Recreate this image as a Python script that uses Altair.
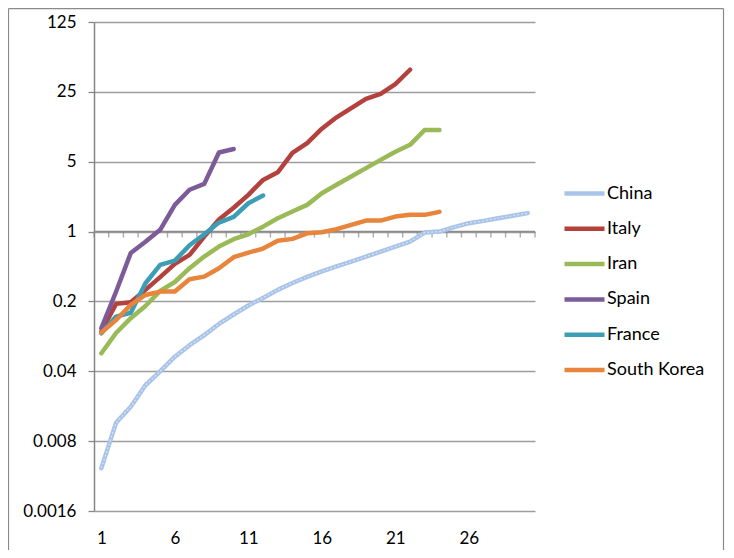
import altair as alt
import pandas as pd

days = list(range(1, 31))
countries = ["China", "Italy", "Iran", "Spain", "France", "South Korea"]
colors = ["#a9c4e8", "#b3413d", "#9aba58", "#7b5b98", "#3c9db6", "#e8843b"]

china = [0.0043, 0.0122, 0.0177, 0.029, 0.040, 0.056, 0.073, 0.092, 0.119, 0.148,
         0.182, 0.217, 0.261, 0.306, 0.352, 0.40, 0.448, 0.50, 0.562, 0.63,
         0.708, 0.794, 0.977, 1.0, 1.107, 1.214, 1.28, 1.36, 1.44, 1.53]
italy = [0.100, 0.189, 0.196, 0.261, 0.35, 0.475, 0.584, 0.89, 1.32, 1.73,
         2.33, 3.29, 3.92, 6.14, 7.68, 10.7, 13.9, 17.2, 21.3, 23.9, 29.9, 41.6]
iran = [0.0606, 0.0967, 0.136, 0.180, 0.255, 0.313, 0.43, 0.562, 0.708, 0.84,
        0.94, 1.12, 1.36, 1.59, 1.85, 2.42, 2.94, 3.55, 4.31, 5.22,
        6.28, 7.38, 10.4, 10.4]
spain = [0.108, 0.25, 0.61, 0.79, 1.04, 1.85, 2.62, 3.0, 6.19, 6.7]
france = [0.096, 0.141, 0.154, 0.304, 0.464, 0.512, 0.73, 0.94, 1.23, 1.40, 1.92, 2.29]
korea = [0.0974, 0.1305, 0.1845, 0.232, 0.251, 0.251, 0.334, 0.354, 0.43, 0.554,
         0.616, 0.676, 0.81, 0.845, 0.96, 0.986, 1.057, 1.167, 1.289, 1.289,
         1.413, 1.47, 1.47, 1.575]

y_ticks = [0.0016, 0.008, 0.04, 0.2, 1, 5, 25, 125]
x_labels = [1, 6, 11, 16, 21, 26]
boundaries = [b + 0.5 for b in range(0, 31)]

series = {"China": china, "Italy": italy, "Iran": iran, "Spain": spain,
          "France": france, "South Korea": korea}
rows = []
for c in countries:
    for d, v in zip(days, series[c]):
        rows.append({"day": d, "country": c, "value": v})
df = pd.DataFrame(rows)
tick_df = pd.DataFrame({"b": boundaries})

FONT = "Lato"
x_scale = alt.Scale(domain=[0.5, 30.5], nice=False, zero=False)
y_scale = alt.Scale(type="log", base=5, domain=[0.0016, 125], nice=False)

one = alt.Data(values=[{"a": 1}])
frame_style = dict(color="#8a8a8a", strokeWidth=1.2)
frame_left = alt.Chart(one).mark_rule(**frame_style).encode(
    x=alt.value(-85.5), y=alt.value(-13.4), y2=alt.value(540))
frame_right = alt.Chart(one).mark_rule(**frame_style).encode(
    x=alt.value(629.5), y=alt.value(-13.4), y2=alt.value(540))
frame_top = alt.Chart(one).mark_rule(**frame_style).encode(
    x=alt.value(-85.5), x2=alt.value(629.5), y=alt.value(-13.4))

axis_rule = alt.Chart(one).mark_rule(
    color="#8c8c8c", strokeWidth=1.5
).encode(x=alt.datum(0.5, scale=x_scale), x2=alt.datum(30.5), y=alt.datum(1))

ticks = alt.Chart(tick_df).mark_tick(
    orient="vertical", size=6, thickness=1.4, color="#8c8c8c", yOffset=3
).encode(x=alt.X("b:Q", scale=x_scale), y=alt.datum(1))

lines = alt.Chart(df).mark_line(
    strokeWidth=4.5, strokeCap="round", strokeJoin="round"
).encode(
    x=alt.X("day:Q", scale=x_scale,
            axis=alt.Axis(values=x_labels, title=None, grid=False, ticks=False,
                          domain=False, labelPadding=19)),
    y=alt.Y("value:Q", scale=y_scale,
            axis=alt.Axis(values=y_ticks, title=None, format="~g", grid=True,
                          gridColor="#9d9d9d", gridWidth=1.3, domain=True,
                          domainColor="#868686", domainWidth=1.5, ticks=True,
                          tickColor="#868686", tickWidth=1.3, tickSize=6,
                          labelPadding=12)),
    color=alt.Color("country:N", scale=alt.Scale(domain=countries, range=colors),
                    legend=alt.Legend(orient="none", legendX=468, legendY=149,
                                      symbolType="stroke", symbolSize=1600,
                                      symbolStrokeWidth=4.5, labelFont=FONT,
                                      labelFontSize=18, labelColor="#000000",
                                      title=None, rowPadding=3.3, labelOffset=0,
                                      padding=0)),
    detail="country:N",
)

china_tex = alt.Chart(df[df.country == "China"]).mark_line(
    strokeWidth=1.2, strokeDash=[2, 2], color="#ffffff", opacity=0.55
).encode(x=alt.X("day:Q", scale=x_scale), y=alt.Y("value:Q", scale=y_scale))

chart = alt.layer(frame_left, frame_right, frame_top, axis_rule, ticks, lines,
                  china_tex).properties(
    width=441, height=489,
    padding={"left": 86, "top": 14, "right": 191, "bottom": 39},
    autosize=alt.AutoSizeParams(type="none"),
).configure_view(stroke=None).configure_axis(
    labelFont=FONT, labelFontSize=17, labelColor="#000000"
)

chart.save("out.html", embed_options={"renderer": "svg", "actions": False})
